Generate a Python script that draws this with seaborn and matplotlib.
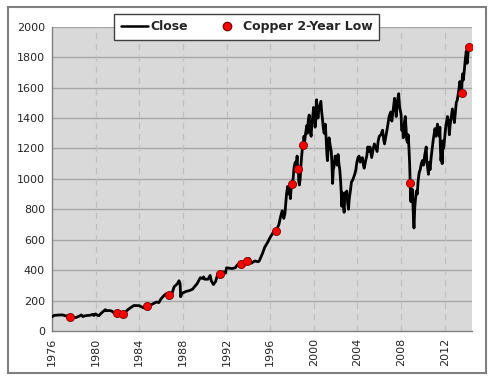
import numpy as np
import pandas as pd
import matplotlib
matplotlib.use('Agg')
import matplotlib.pyplot as plt
from matplotlib.patches import Rectangle
from matplotlib.lines import Line2D
import seaborn as sns

# ── S&P 500 close (approx.) ──
years = [1976.0, 1976.2, 1976.5, 1976.75, 1977.0, 1977.25, 1977.5, 1977.7,
         1978.0, 1978.2, 1978.5, 1978.7, 1978.85, 1979.0, 1979.3, 1979.5,
         1979.75, 1979.85, 1980.0, 1980.2, 1980.3, 1980.5, 1980.9, 1981.0,
         1981.3, 1981.5, 1981.7, 1981.95, 1982.2, 1982.5, 1982.6, 1982.75,
         1983.0, 1983.5, 1983.8, 1984.0, 1984.4, 1984.6, 1984.76, 1985.0,
         1985.3, 1985.6, 1985.8, 1986.0, 1986.3, 1986.5, 1986.75, 1987.0,
         1987.2, 1987.5, 1987.65, 1987.75, 1987.8, 1987.9, 1988.0, 1988.3,
         1988.6, 1988.9, 1989.0, 1989.3, 1989.6, 1989.8, 1989.9, 1990.0,
         1990.3, 1990.5, 1990.6, 1990.8, 1991.0, 1991.2, 1991.43, 1991.7,
         1991.9, 1992.0, 1992.5, 1992.8, 1993.0, 1993.3, 1993.6, 1993.85,
         1994.1, 1994.25, 1994.6, 1994.9, 1995.0, 1995.3, 1995.5, 1995.75,
         1996.0, 1996.3, 1996.45, 1996.57, 1996.8, 1996.95, 1997.1, 1997.25,
         1997.35, 1997.5, 1997.6, 1997.7, 1997.8, 1997.85, 1997.95, 1998.0,
         1998.1, 1998.2, 1998.3, 1998.4, 1998.47, 1998.52, 1998.58, 1998.62,
         1998.68, 1998.75, 1998.82, 1998.9, 1998.98, 1999.04, 1999.1, 1999.15,
         1999.25, 1999.35, 1999.42, 1999.5, 1999.58, 1999.65, 1999.75, 1999.82,
         1999.9, 1999.98, 2000.05, 2000.12, 2000.2, 2000.25, 2000.32, 2000.38,
         2000.45, 2000.55, 2000.65, 2000.72, 2000.8, 2000.85, 2000.9, 2000.95,
         2001.05, 2001.12, 2001.2, 2001.25, 2001.32, 2001.4, 2001.5, 2001.6,
         2001.66, 2001.72, 2001.78, 2001.85, 2001.95, 2002.05, 2002.15, 2002.22,
         2002.3, 2002.38, 2002.45, 2002.52, 2002.55, 2002.6, 2002.65, 2002.72,
         2002.78, 2002.83, 2002.88, 2002.95, 2003.02, 2003.1, 2003.18, 2003.25,
         2003.35, 2003.45, 2003.55, 2003.65, 2003.75, 2003.85, 2003.95, 2004.05,
         2004.15, 2004.25, 2004.35, 2004.45, 2004.55, 2004.62, 2004.75, 2004.85,
         2004.95, 2005.05, 2005.15, 2005.3, 2005.45, 2005.55, 2005.65, 2005.8,
         2005.9, 2006.0, 2006.15, 2006.3, 2006.4, 2006.48, 2006.6, 2006.75,
         2006.9, 2007.05, 2007.15, 2007.25, 2007.4, 2007.48, 2007.55, 2007.62,
         2007.7, 2007.78, 2007.85, 2007.92, 2008.0, 2008.05, 2008.15, 2008.2,
         2008.3, 2008.38, 2008.45, 2008.5, 2008.58, 2008.65, 2008.72, 2008.78,
         2008.83, 2008.86, 2008.9, 2008.93, 2008.98, 2009.03, 2009.08, 2009.13,
         2009.18, 2009.25, 2009.32, 2009.4, 2009.48, 2009.55, 2009.65, 2009.75,
         2009.85, 2009.95, 2010.05, 2010.15, 2010.3, 2010.35, 2010.42, 2010.5,
         2010.58, 2010.65, 2010.75, 2010.85, 2010.95, 2011.1, 2011.2, 2011.33,
         2011.4, 2011.5, 2011.55, 2011.6, 2011.65, 2011.72, 2011.76, 2011.82,
         2011.9, 2011.98, 2012.1, 2012.25, 2012.35, 2012.42, 2012.5, 2012.6,
         2012.7, 2012.8, 2012.88, 2012.95, 2013.05, 2013.15, 2013.3, 2013.38,
         2013.45, 2013.54, 2013.62, 2013.7, 2013.8, 2013.9, 2013.97, 2014.05,
         2014.1, 2014.15, 2014.2]
close = [92, 102, 104, 105, 105, 99, 100, 90,
         89, 88, 97, 105, 94, 99, 102, 103,
         109, 101, 112, 102, 100, 115, 140, 133,
         134, 130, 117, 116, 111, 108, 104, 125,
         142, 167, 166, 166, 152, 160, 163, 168,
         180, 190, 186, 211, 235, 245, 236, 246,
         290, 310, 330, 310, 225, 245, 250, 260,
         265, 275, 285, 310, 350, 345, 355, 340,
         340, 365, 330, 305, 325, 375, 372, 388,
         380, 415, 410, 415, 435, 440, 450, 458,
         475, 445, 460, 455, 460, 510, 550, 580,
         615, 650, 640, 660, 700, 750, 790, 740,
         770, 900, 950, 900, 940, 870, 960, 967,
         1000, 1080, 1110, 1090, 1150, 1068, 1080, 980,
         960, 1000, 1090, 1160, 1220, 1224, 1280, 1240,
         1300, 1350, 1300, 1390, 1420, 1330, 1280, 1360,
         1410, 1470, 1400, 1340, 1400, 1520, 1460, 1400,
         1450, 1480, 1510, 1440, 1390, 1350, 1320, 1300,
         1360, 1280, 1160, 1120, 1200, 1270, 1220, 1180,
         1100, 970, 1060, 1080, 1150, 1130, 1090, 1160,
         1100, 1060, 990, 900, 820, 910, 870, 820,
         780, 880, 910, 880, 920, 840, 800, 870,
         920, 980, 990, 1010, 1030, 1060, 1110, 1140,
         1150, 1110, 1130, 1140, 1090, 1070, 1120, 1150,
         1210, 1180, 1210, 1140, 1200, 1230, 1210, 1180,
         1250, 1280, 1290, 1320, 1260, 1230, 1280, 1340,
         1410, 1440, 1380, 1440, 1530, 1480, 1410, 1470,
         1530, 1560, 1480, 1450, 1420, 1320, 1330, 1270,
         1370, 1410, 1340, 1260, 1240, 1290, 1200, 1100,
         975, 870, 850, 930, 880, 930, 830, 740,
         677, 810, 870, 920, 900, 980, 1040, 1060,
         1100, 1120, 1090, 1150, 1210, 1110, 1080, 1030,
         1110, 1060, 1140, 1200, 1260, 1330, 1280, 1360,
         1320, 1280, 1340, 1200, 1120, 1180, 1100, 1250,
         1200, 1260, 1350, 1410, 1370, 1290, 1360, 1410,
         1460, 1410, 1370, 1420, 1500, 1520, 1590, 1640,
         1580, 1566, 1690, 1650, 1720, 1800, 1840, 1760,
         1800, 1840, 1867]

# ── Copper 2-year lows ──
low_years = [1977.7, 1981.95, 1982.5, 1984.76, 1986.75, 1991.43, 1993.3,
             1993.85, 1996.57, 1998.0, 1998.52, 1999.04, 2008.83, 2013.54,
             2014.2]
low_close = [90, 116, 108, 163, 236, 372, 440, 458, 660, 967, 1068, 1224,
             975, 1566, 1867]

xticks = list(range(1976, 2013, 4))
yticks = list(range(0, 2001, 200))

df = pd.DataFrame({'Year': years, 'Close': close})
df_low = pd.DataFrame({'Year': low_years, 'Close': low_close})

sns.set_style('white')
plt.rcParams['font.family'] = ['DejaVu Sans']

fig = plt.figure(figsize=(4.99, 3.83), dpi=100)
ax = fig.add_axes([0.104, 0.136, 0.842, 0.794])
ax.set_facecolor('#d9d9d9')

# outer frame
fig.patches.append(Rectangle((0.016, 0.026), 0.958, 0.956,
                             transform=fig.transFigure, fill=False,
                             edgecolor='#7f7f7f', linewidth=1.5))

for y in yticks[1:]:
    ax.axhline(y, color='#a6a6a6', linewidth=1.0, zorder=1)
for x in xticks[1:]:
    ax.axvline(x, color='#bfbfbf', linewidth=0.9, linestyle=(0, (5, 4)),
               zorder=1)

sns.lineplot(data=df, x='Year', y='Close', ax=ax, color='black',
             linewidth=2.0, zorder=3, legend=False)
sns.scatterplot(data=df_low, x='Year', y='Close', ax=ax, color='#ff0000',
                edgecolor='#7f0000', linewidth=0.6, s=34, zorder=4,
                legend=False)

ax.set_xlim(1976, 2014.5)
ax.set_ylim(0, 2000)
ax.set_xticks(xticks)
ax.set_xticklabels([str(t) for t in xticks], rotation=90)
ax.set_yticks(yticks)
ax.set_xlabel('')
ax.set_ylabel('')
ax.tick_params(axis='both', labelsize=8, colors='#262626', length=3,
               width=0.8, direction='out', pad=2)
ax.tick_params(axis='both', color='#808080')

for side in ['top', 'right']:
    ax.spines[side].set_visible(False)
for side in ['left', 'bottom']:
    ax.spines[side].set_color('#808080')
    ax.spines[side].set_linewidth(1.0)

handles = [Line2D([0], [0], color='black', linewidth=1.8),
           Line2D([0], [0], marker='o', color='none',
                  markerfacecolor='#ff0000', markeredgecolor='#7f0000',
                  markersize=6)]
leg = ax.legend(handles, ['Close', 'Copper 2-Year Low'], loc='center',
                bbox_to_anchor=(0.464, 1.0), ncol=2, frameon=True,
                fancybox=False, handlelength=2.2, handletextpad=0.2,
                columnspacing=2.0, prop={'weight': 'bold', 'size': 9},
                borderpad=0.5)
leg.get_frame().set_edgecolor('#404040')
leg.get_frame().set_linewidth(1.0)
leg.get_frame().set_alpha(1)
leg.set_zorder(10)

plt.savefig('out.png', dpi=100)
